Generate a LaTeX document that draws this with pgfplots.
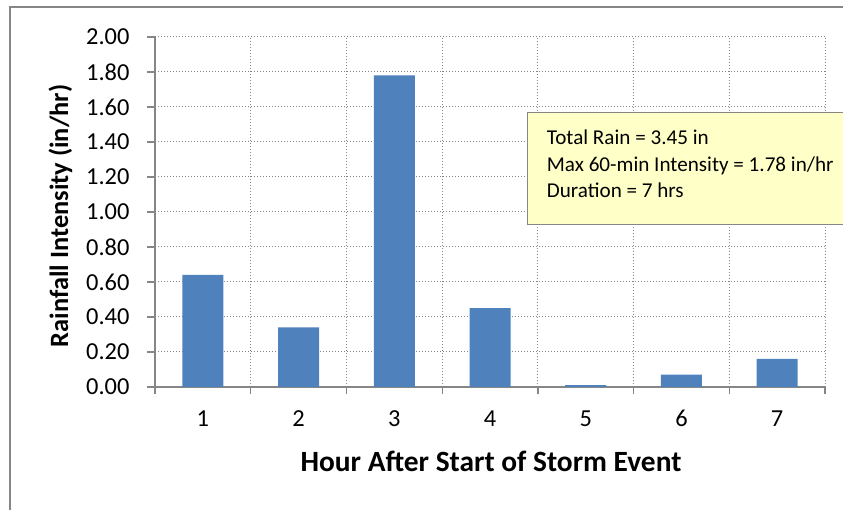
\documentclass[border=0pt]{standalone}
\usepackage{pgfplots}
\pgfplotsset{compat=1.18}
\usepackage{fontspec}
\setmainfont{Carlito}
\definecolor{barblue}{HTML}{4F81BD}
\definecolor{axgray}{HTML}{868686}
\definecolor{boxyellow}{HTML}{FFFFC8}
\begin{document}
\begin{tikzpicture}[x=1bp,y=1bp]
\path[use as bounding box] (0,0) rectangle (843,510);
\draw[axgray, line width=1.8bp] (10,-5) -- (10,503) -- (860,503);
\begin{axis}[
  at={(155bp,123bp)}, anchor=south west,
  scale only axis, width=670bp, height=350bp,
  xmin=0.5, xmax=7.5, ymin=0, ymax=2,
  axis x line*=bottom, axis y line*=left,
  x axis line style={-, draw=axgray, line width=1.3bp},
  y axis line style={-, draw=axgray, line width=1.3bp},
  xtick={1,2,3,4,5,6,7},
  major x tick style={draw=none},
  minor xtick={0.5,1.5,2.5,3.5,4.5,5.5,6.5,7.5},
  xminorgrids=true, ymajorgrids=true,
  minor grid style={axgray, line width=1bp, dash pattern=on 1.2bp off 1.8bp},
  major grid style={axgray, line width=1bp, dash pattern=on 1.2bp off 1.8bp},
  ytick={0,0.2,0.4,0.6,0.8,1.0,1.2,1.4,1.6,1.8,2.0},
  tick align=outside,
  major tick length=8bp, minor tick length=7bp,
  every tick/.style={axgray, line width=1.3bp},
  /pgf/number format/assume math mode=true,
  yticklabel style={/pgf/number format/fixed, /pgf/number format/fixed zerofill, /pgf/number format/precision=2, xshift=-14bp},
  ticklabel style={font=\fontsize{24.5}{28}\selectfont, text=black},
  xticklabel style={yshift=-12bp},
  ybar, bar width=41bp,
]
\addplot[fill=barblue, draw=none] coordinates {(1,0.64) (2,0.34) (3,1.78) (4,0.45) (5,0.01) (6,0.07) (7,0.16)};
\end{axis}
\draw[fill=boxyellow, draw=axgray, line width=1bp] (527,285) rectangle (870,397);
\begin{scope}[every node/.style={anchor=base west, inner sep=0pt, font=\fontsize{21.2}{25}\selectfont}]
\node at (546.7,365) {Total Rain = 3.45 in};
\node at (546.7,338.3) {Max 60-min Intensity = 1.78 in/hr};
\node at (546.7,312) {Duration = 7 hrs};
\end{scope}
\node[anchor=base, inner sep=0pt, font=\bfseries\fontsize{29.5}{34}\selectfont] at (491,38) {Hour After Start of Storm Event};
\node[anchor=base, rotate=90, inner sep=0pt, font=\bfseries\fontsize{26.5}{30}\selectfont] at (68,294) {Rainfall Intensity (in/hr)};
\end{tikzpicture}
\end{document}
